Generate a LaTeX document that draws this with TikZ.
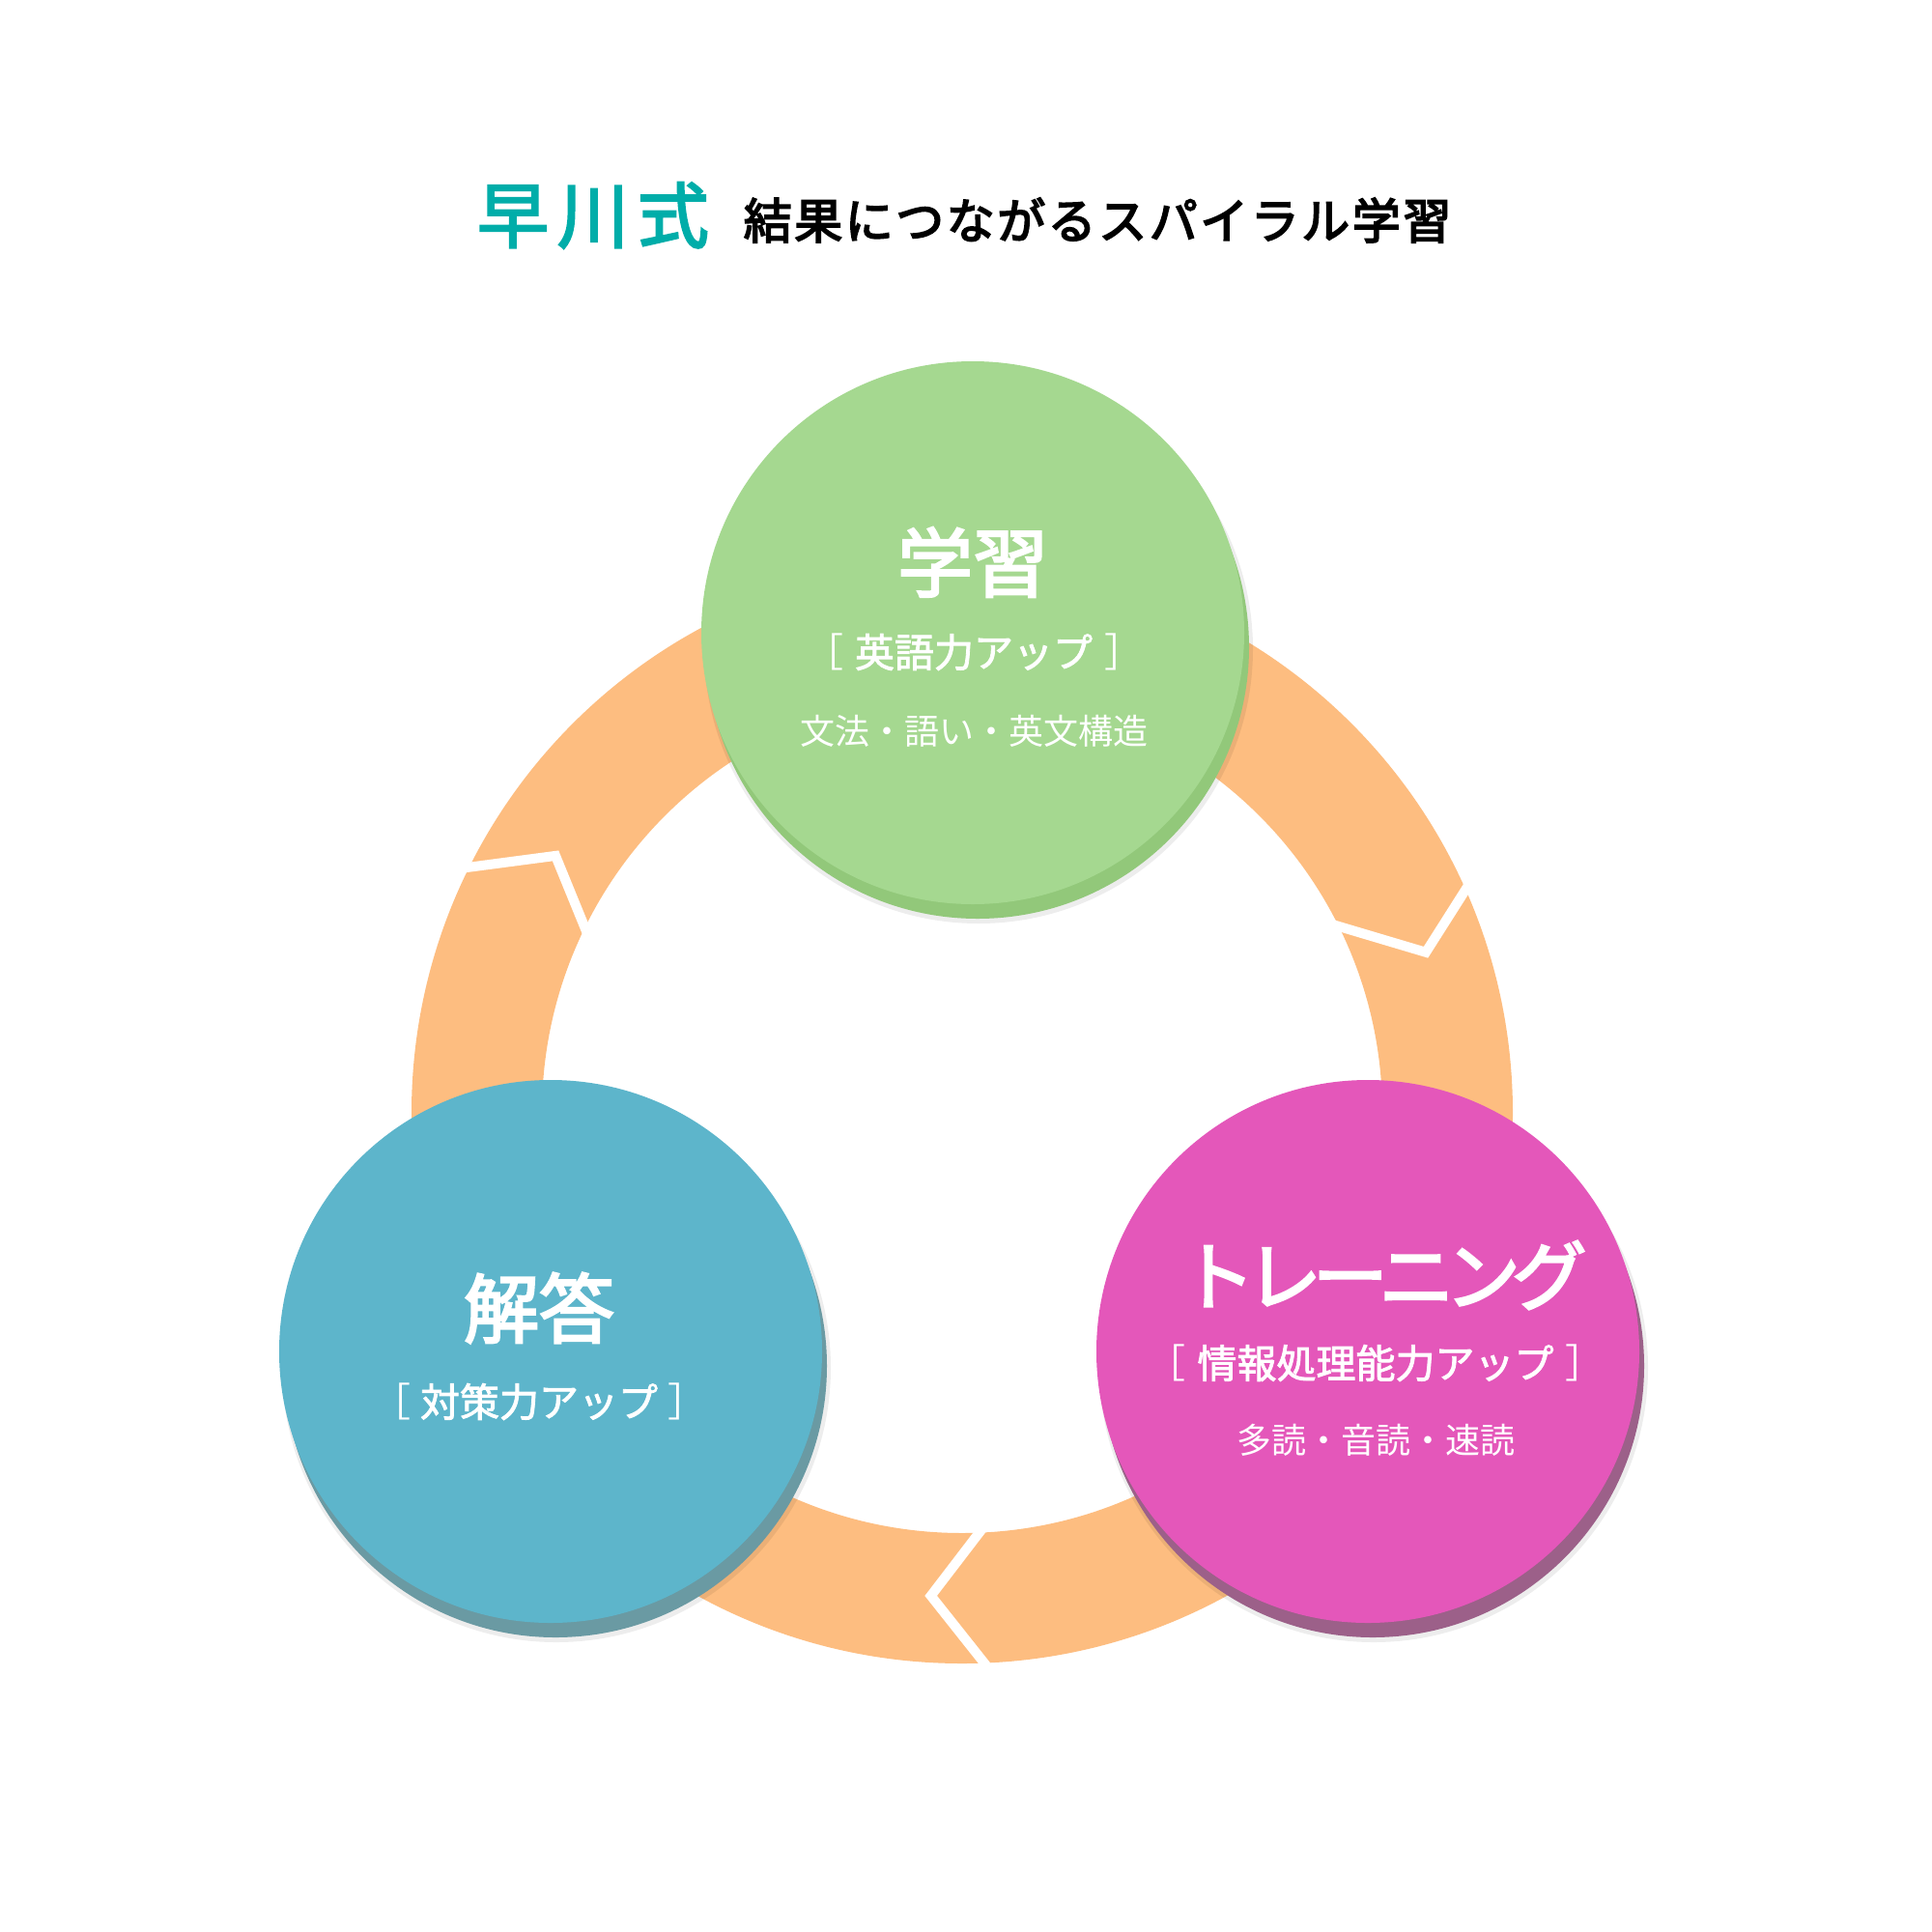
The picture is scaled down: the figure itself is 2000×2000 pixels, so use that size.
\documentclass[tikz,border=0pt]{standalone}
\usepackage{fontspec}
\setmainfont{Noto Sans CJK JP}

\definecolor{ringorange}{RGB}{253,189,128}
\definecolor{brandteal}{RGB}{0,173,169}
\definecolor{learngreen}{RGB}{165,216,144}
\definecolor{learnshade}{RGB}{146,200,122}
\definecolor{answerblue}{RGB}{93,181,203}
\definecolor{answershade}{RGB}{106,154,163}
\definecolor{trainpink}{RGB}{228,87,186}
\definecolor{trainshade}{RGB}{156,96,137}

\newcommand{\brk}[1]{{\addfontfeatures{FakeBold=0}#1}}

\tikzset{
  disk/.style={circle, minimum size=562pt, inner sep=0pt, draw=none},
  cut/.style={white, line width=10pt, line join=miter, shorten <=-8pt, shorten >=-8pt},
  head/.style={font=\fontsize{78}{80}\selectfont\addfontfeatures{FakeBold=3}},
  tag/.style={font=\fontsize{41}{44}\selectfont\addfontfeatures{FakeBold=2}},
  note/.style={font=\fontsize{36}{38}\selectfont},
}

\begin{document}
\begin{tikzpicture}[x=1pt, y=-1pt, every node/.style={inner sep=0pt, text=white}]
\useasboundingbox[fill=white] (0,0) rectangle (2000,2000);

% title
\node[text=brandteal, font=\fontsize{74}{78}\selectfont\addfontfeatures{FakeBold=3,LetterSpace=12}] (brand) at (614,223) {早川式};
\node[text=black, font=\fontsize{50}{54}\selectfont\addfontfeatures{FakeBold=3.5,LetterSpace=5}] (slogan) at (1136,228) {結果につながるスパイラル学習};

% spiral ring with arrow cuts
\fill[ringorange, even odd rule] (996,1152) circle (570) (996,1152) circle (435);
\begin{scope}[shift={(996,1152)}]
\foreach \ai/\at/\ao/\rt in {-154.1/-147.7/-153.5/498, -26.6/-19.1/-23.9/508, 87.45/93.7/87.7/501}
  \draw[cut] (\ai:433) -- (\at:\rt) -- (\ao:570);
\end{scope}

% circles
\foreach \n/\cx/\cy/\fc/\sc in {learn/1007/655/learngreen/learnshade, answer/570/1399/answerblue/answershade, train/1416/1399/trainpink/trainshade}{
  \node[disk, fill=black, opacity=.07, minimum size=568pt] at (\cx+6,\cy+17) {};
  \node[disk, fill=\sc] at (\cx+5,\cy+15) {};
  \node[disk, fill=\fc] (\n) at (\cx,\cy) {};
}

% learn
\node[head] (learnhead) at (1007,582) {学習};
\node[tag] (learntag) at (1008,675) {\brk{［}\hspace{12pt}英語力アップ\hspace{12pt}\brk{］}};
\node[note] (learnnote) at (1008,757) {文法・語い・英文構造};

% answer
\node[head] (answerhead) at (558,1354) {解答};
\node[tag] (answertag) at (558,1451) {\brk{［}\hspace{10pt}対策力アップ\hspace{10pt}\brk{］}};

% train
\node[head, font=\fontsize{78}{80}\selectfont\addfontfeatures{FakeBold=3,LetterSpace=-12}] (trainhead) at (1432,1320) {トレーニング};
\node[tag] (traintag) at (1424,1411) {\brk{［}\hspace{12pt}情報処理能力アップ\hspace{12pt}\brk{］}};
\node[note] (trainnote) at (1424,1491) {多読・音読・速読};

\end{tikzpicture}
\end{document}
